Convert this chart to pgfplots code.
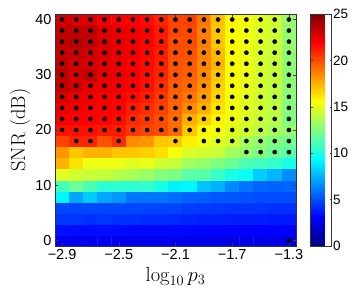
\documentclass[border=0pt]{standalone}
\usepackage{pgfplots}
\usepackage{pgfplotstable}
\usepackage{fontspec}
\pgfplotsset{compat=1.18}
\newfontfamily\arial{Liberation Sans}

\pgfplotstableread[row sep=\\]{
x y c dy\\
-2.9 0 2.7 nan\\ -2.8 0 2.7 nan\\ -2.7 0 2.7 nan\\ -2.6 0 2.7 nan\\ -2.5 0 2.7 nan\\ -2.4 0 2.6 nan\\ -2.3 0 2.6 nan\\ -2.2 0 2.6 nan\\ -2.1 0 2.6 nan\\ -2.0 0 2.6 nan\\ -1.9 0 2.6 nan\\ -1.8 0 2.5 nan\\ -1.7 0 2.5 nan\\ -1.6 0 2.5 nan\\ -1.5 0 2.5 nan\\ -1.4 0 2.5 nan\\ -1.3 0 2.5 0\\
-2.9 2 3.5 nan\\ -2.8 2 3.4 nan\\ -2.7 2 3.4 nan\\ -2.6 2 3.4 nan\\ -2.5 2 3.4 nan\\ -2.4 2 3.3 nan\\ -2.3 2 3.3 nan\\ -2.2 2 3.3 nan\\ -2.1 2 3.3 nan\\ -2.0 2 3.3 nan\\ -1.9 2 3.2 nan\\ -1.8 2 3.2 nan\\ -1.7 2 3.2 nan\\ -1.6 2 3.1 nan\\ -1.5 2 3.1 nan\\ -1.4 2 3.1 nan\\ -1.3 2 3.0 nan\\
-2.9 4 4.4 nan\\ -2.8 4 4.4 nan\\ -2.7 4 4.3 nan\\ -2.6 4 4.4 nan\\ -2.5 4 4.3 nan\\ -2.4 4 4.3 nan\\ -2.3 4 4.2 nan\\ -2.2 4 4.2 nan\\ -2.1 4 4.1 nan\\ -2.0 4 4.0 nan\\ -1.9 4 3.9 nan\\ -1.8 4 3.9 nan\\ -1.7 4 3.8 nan\\ -1.6 4 3.8 nan\\ -1.5 4 3.8 nan\\ -1.4 4 3.7 nan\\ -1.3 4 3.7 nan\\
-2.9 6 4.9 nan\\ -2.8 6 4.9 nan\\ -2.7 6 4.9 nan\\ -2.6 6 4.9 nan\\ -2.5 6 4.9 nan\\ -2.4 6 4.9 nan\\ -2.3 6 4.8 nan\\ -2.2 6 4.8 nan\\ -2.1 6 4.8 nan\\ -2.0 6 4.6 nan\\ -1.9 6 4.5 nan\\ -1.8 6 4.5 nan\\ -1.7 6 4.4 nan\\ -1.6 6 4.4 nan\\ -1.5 6 4.4 nan\\ -1.4 6 4.3 nan\\ -1.3 6 4.3 nan\\
-2.9 8 9.2 nan\\ -2.8 8 7.2 nan\\ -2.7 8 8.1 nan\\ -2.6 8 7.2 nan\\ -2.5 8 6.9 nan\\ -2.4 8 6.0 nan\\ -2.3 8 6.0 nan\\ -2.2 8 6.0 nan\\ -2.1 8 5.8 nan\\ -2.0 8 5.5 nan\\ -1.9 8 5.4 nan\\ -1.8 8 5.2 nan\\ -1.7 8 5.2 nan\\ -1.6 8 5.1 nan\\ -1.5 8 5.0 nan\\ -1.4 8 5.0 nan\\ -1.3 8 5.0 nan\\
-2.9 10 11.0 nan\\ -2.8 10 12.0 nan\\ -2.7 10 11.2 nan\\ -2.6 10 10.4 nan\\ -2.5 10 10.5 nan\\ -2.4 10 10.5 nan\\ -2.3 10 10.6 nan\\ -2.2 10 10.0 nan\\ -2.1 10 9.1 nan\\ -2.0 10 9.2 nan\\ -1.9 10 7.9 nan\\ -1.8 10 7.5 nan\\ -1.7 10 6.5 nan\\ -1.6 10 6.0 nan\\ -1.5 10 5.6 nan\\ -1.4 10 5.5 nan\\ -1.3 10 5.6 nan\\
-2.9 12 14.9 nan\\ -2.8 12 14.5 nan\\ -2.7 12 14.3 nan\\ -2.6 12 14.2 nan\\ -2.5 12 13.8 nan\\ -2.4 12 13.5 nan\\ -2.3 12 13.1 nan\\ -2.2 12 12.6 nan\\ -2.1 12 12.4 nan\\ -2.0 12 11.6 nan\\ -1.9 12 11.5 nan\\ -1.8 12 10.8 nan\\ -1.7 12 10.0 nan\\ -1.6 12 9.6 nan\\ -1.5 12 8.2 nan\\ -1.4 12 7.6 nan\\ -1.3 12 6.6 nan\\
-2.9 14 17.5 nan\\ -2.8 14 16.3 nan\\ -2.7 14 15.2 nan\\ -2.6 14 15.2 nan\\ -2.5 14 15.2 nan\\ -2.4 14 14.9 nan\\ -2.3 14 15.1 nan\\ -2.2 14 14.5 nan\\ -2.1 14 14.2 nan\\ -2.0 14 13.3 nan\\ -1.9 14 13.0 nan\\ -1.8 14 12.5 nan\\ -1.7 14 12.0 nan\\ -1.6 14 11.3 nan\\ -1.5 14 11.0 nan\\ -1.4 14 10.7 nan\\ -1.3 14 10.0 nan\\
-2.9 16 18.2 nan\\ -2.8 16 17.0 nan\\ -2.7 16 17.5 nan\\ -2.6 16 17.5 nan\\ -2.5 16 17.0 nan\\ -2.4 16 17.0 nan\\ -2.3 16 16.8 nan\\ -2.2 16 16.4 nan\\ -2.1 16 15.4 nan\\ -2.0 16 14.7 nan\\ -1.9 16 14.5 nan\\ -1.8 16 14.3 nan\\ -1.7 16 13.3 nan\\ -1.6 16 13.0 16\\ -1.5 16 12.5 16\\ -1.4 16 12.0 16\\ -1.3 16 11.5 16\\
-2.9 18 20.2 nan\\ -2.8 18 21.0 18\\ -2.7 18 21.0 18\\ -2.6 18 19.9 nan\\ -2.5 18 20.8 18\\ -2.4 18 18.5 nan\\ -2.3 18 18.2 nan\\ -2.2 18 17.0 nan\\ -2.1 18 16.9 18\\ -2.0 18 16.0 nan\\ -1.9 18 15.3 18\\ -1.8 18 14.8 18\\ -1.7 18 14.5 18\\ -1.6 18 13.5 18\\ -1.5 18 13.0 18\\ -1.4 18 12.5 18\\ -1.3 18 12.2 18\\
-2.9 20 21.5 20\\ -2.8 20 21.5 20\\ -2.7 20 21.5 20\\ -2.6 20 21.3 20\\ -2.5 20 21.2 20\\ -2.4 20 20.6 20\\ -2.3 20 20.2 20\\ -2.2 20 20.0 20\\ -2.1 20 19.3 20\\ -2.0 20 17.0 20\\ -1.9 20 15.8 20\\ -1.8 20 15.4 20\\ -1.7 20 14.9 20\\ -1.6 20 14.6 20\\ -1.5 20 14.0 20\\ -1.4 20 13.5 20\\ -1.3 20 13.0 20\\
-2.9 22 22.1 22\\ -2.8 22 22.0 22\\ -2.7 22 21.9 22\\ -2.6 22 21.8 22\\ -2.5 22 21.6 22\\ -2.4 22 20.9 22\\ -2.3 22 20.5 22\\ -2.2 22 20.0 22\\ -2.1 22 19.2 22\\ -2.0 22 17.6 22\\ -1.9 22 16.8 22\\ -1.8 22 15.9 22\\ -1.7 22 15.2 22\\ -1.6 22 14.8 22\\ -1.5 22 14.3 22\\ -1.4 22 13.9 22\\ -1.3 22 12.5 22\\
-2.9 24 22.3 24\\ -2.8 24 22.2 24\\ -2.7 24 22.1 24\\ -2.6 24 22.0 24\\ -2.5 24 21.8 24\\ -2.4 24 21.2 24\\ -2.3 24 20.8 24\\ -2.2 24 20.3 24\\ -2.1 24 19.4 24\\ -2.0 24 18.5 24\\ -1.9 24 17.5 24\\ -1.8 24 16.3 24\\ -1.7 24 15.3 24\\ -1.6 24 14.9 24\\ -1.5 24 14.4 24\\ -1.4 24 14.0 24\\ -1.3 24 12.6 24\\
-2.9 26 22.8 26\\ -2.8 26 22.5 26\\ -2.7 26 22.3 26\\ -2.6 26 22.1 26\\ -2.5 26 21.9 26\\ -2.4 26 21.6 26\\ -2.3 26 21.2 26\\ -2.2 26 20.5 26\\ -2.1 26 19.5 26\\ -2.0 26 19.0 26\\ -1.9 26 18.0 26\\ -1.8 26 16.6 26\\ -1.7 26 15.4 26\\ -1.6 26 15.0 26\\ -1.5 26 14.5 26\\ -1.4 26 14.0 26\\ -1.3 26 12.7 26\\
-2.9 28 23.4 28\\ -2.8 28 23.0 28\\ -2.7 28 22.5 28\\ -2.6 28 22.4 28\\ -2.5 28 22.2 28\\ -2.4 28 21.9 28\\ -2.3 28 21.4 28\\ -2.2 28 20.8 28\\ -2.1 28 19.6 28\\ -2.0 28 19.3 28\\ -1.9 28 18.3 28\\ -1.8 28 16.8 28\\ -1.7 28 15.5 28\\ -1.6 28 15.1 28\\ -1.5 28 14.6 28\\ -1.4 28 14.1 28\\ -1.3 28 12.8 28\\
-2.9 30 23.5 30\\ -2.8 30 22.8 30\\ -2.7 30 23.4 30\\ -2.6 30 22.5 30\\ -2.5 30 22.3 30\\ -2.4 30 22.0 30\\ -2.3 30 21.5 30\\ -2.2 30 21.0 30\\ -2.1 30 19.8 30\\ -2.0 30 19.5 30\\ -1.9 30 18.5 30\\ -1.8 30 17.0 30\\ -1.7 30 15.6 30\\ -1.6 30 15.1 30\\ -1.5 30 14.6 30\\ -1.4 30 14.2 30\\ -1.3 30 12.8 30\\
-2.9 32 23.5 32\\ -2.8 32 23.0 32\\ -2.7 32 22.9 32\\ -2.6 32 22.6 32\\ -2.5 32 22.4 32\\ -2.4 32 22.0 32\\ -2.3 32 21.6 32\\ -2.2 32 21.1 32\\ -2.1 32 19.8 32\\ -2.0 32 19.7 32\\ -1.9 32 18.6 32\\ -1.8 32 17.5 32\\ -1.7 32 15.6 32\\ -1.6 32 15.2 32\\ -1.5 32 14.7 32\\ -1.4 32 14.2 32\\ -1.3 32 12.9 32\\
-2.9 34 23.3 34\\ -2.8 34 23.3 34\\ -2.7 34 23.0 34\\ -2.6 34 22.7 34\\ -2.5 34 22.4 34\\ -2.4 34 22.2 34\\ -2.3 34 21.7 34\\ -2.2 34 21.2 34\\ -2.1 34 20.0 34\\ -2.0 34 19.9 34\\ -1.9 34 18.7 34\\ -1.8 34 17.3 34\\ -1.7 34 15.7 34\\ -1.6 34 15.2 34\\ -1.5 34 14.7 34\\ -1.4 34 14.3 34\\ -1.3 34 12.9 34\\
-2.9 36 23.4 36\\ -2.8 36 23.7 36\\ -2.7 36 23.4 36\\ -2.6 36 22.8 36\\ -2.5 36 22.5 36\\ -2.4 36 22.2 36\\ -2.3 36 21.8 36\\ -2.2 36 21.3 36\\ -2.1 36 20.0 36\\ -2.0 36 20.0 36\\ -1.9 36 18.8 36\\ -1.8 36 17.0 36\\ -1.7 36 15.7 36\\ -1.6 36 15.3 36\\ -1.5 36 14.8 36\\ -1.4 36 14.3 36\\ -1.3 36 13.0 36\\
-2.9 38 23.4 38\\ -2.8 38 23.4 38\\ -2.7 38 23.4 38\\ -2.6 38 22.7 38\\ -2.5 38 22.5 38\\ -2.4 38 22.2 38\\ -2.3 38 21.9 38\\ -2.2 38 21.3 38\\ -2.1 38 20.2 38\\ -2.0 38 20.1 38\\ -1.9 38 18.8 38\\ -1.8 38 17.0 38\\ -1.7 38 15.7 38\\ -1.6 38 15.3 38\\ -1.5 38 14.8 38\\ -1.4 38 14.4 38\\ -1.3 38 13.0 38\\
-2.9 40 23.0 40\\ -2.8 40 22.7 40\\ -2.7 40 22.7 40\\ -2.6 40 22.3 40\\ -2.5 40 22.0 40\\ -2.4 40 22.0 40\\ -2.3 40 21.6 40\\ -2.2 40 21.0 40\\ -2.1 40 20.2 40\\ -2.0 40 20.3 40\\ -1.9 40 19.0 40\\ -1.8 40 17.2 40\\ -1.7 40 15.8 40\\ -1.6 40 15.4 40\\ -1.5 40 14.9 40\\ -1.4 40 14.5 40\\ -1.3 40 13.0 40\\
}\heatdata

\begin{document}
\begin{tikzpicture}
\begin{axis}[
  scale only axis,
  width=241pt, height=232pt,
  xmin=-2.95, xmax=-1.25, ymin=-1, ymax=41,
  enlargelimits=false,
  axis on top,
  xtick={-2.9,-2.5,-2.1,-1.7,-1.3},
  xticklabels={−2.9,−2.5,−2.1,−1.7,−1.3},
  ytick={0,10,20,30,40},
  yticklabels={0,10,20,30,40},
  tick align=inside,
  major tick length=3pt,
  tick style={black!75, line width=0.5pt},
  axis line style={black!80, line width=0.6pt},
  tick label style={font=\fontsize{14.5}{16}\selectfont\arial},
  label style={font=\fontsize{20.5}{24}\selectfont},
  xlabel={$\log_{10} p_3$},
  ylabel={SNR (dB)},
  xlabel style={at={(axis description cs:0.5,0)}, anchor=base, yshift=-35pt},
  ylabel style={at={(axis description cs:-0.145,0.5)}, anchor=center},
  colormap/jet,
  point meta min=0, point meta max=25,
  colorbar,
  colorbar style={
    width=21pt,
    at={(parent axis.north east)}, anchor=north west, xshift=6pt,
    ytick={0,5,10,15,20,25},
    yticklabels={0,5,10,15,20,25},
    tick align=inside,
    major tick length=2pt,
    yticklabel style={font=\fontsize{13.5}{15}\selectfont\arial, xshift=-2pt},
    axis line style={black!80, line width=0.6pt},
  },
]
\addplot[matrix plot*, mesh/cols=17, point meta=explicit] table[x=x, y=y, meta=c] {\heatdata};
\addplot[only marks, mark=*, mark size=2.1pt, black] table[x=x, y=dy] {\heatdata};
\end{axis}
\pgfresetboundingbox
\path ([xshift=-55pt,yshift=-45pt]current axis.south west) rectangle ([xshift=59pt,yshift=14pt]current axis.north east);
\end{tikzpicture}
\end{document}
